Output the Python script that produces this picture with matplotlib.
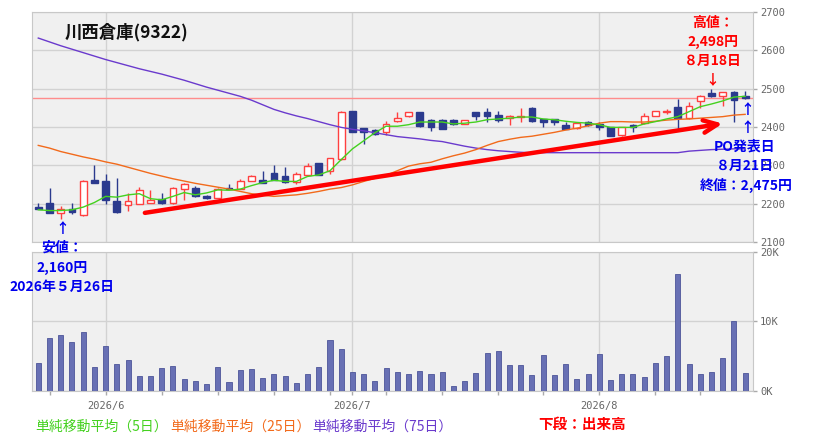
import matplotlib
matplotlib.use('Agg')
import matplotlib.pyplot as plt
import pandas as pd

plt.rcParams['font.family'] = ['Noto Sans CJK JP', 'DejaVu Sans']

# 営業日 2026/5/22 - 8/21 (海の日・山の日は休場)
holidays = ['2026-07-20', '2026-08-11']
dates = [d for d in pd.bdate_range('2026-05-22', '2026-08-21')
         if d.strftime('%Y-%m-%d') not in holidays]

# 四本値 (チャートから読み取り)
opens = [2191, 2202, 2176, 2186, 2170, 2262, 2260, 2208, 2197, 2199,
         2203, 2212, 2202, 2238, 2241, 2221, 2216, 2241, 2238, 2260,
         2262, 2280, 2273, 2257, 2275, 2306, 2286, 2317, 2442, 2397,
         2393, 2386, 2415, 2428, 2439, 2419, 2419, 2417, 2408, 2439,
         2439, 2431, 2423, 2427, 2450, 2421, 2421, 2406, 2397, 2412,
         2408, 2399, 2378, 2406, 2411, 2430, 2440, 2451, 2423, 2469,
         2489, 2480, 2491, 2481]
highs = [2203, 2241, 2193, 2203, 2262, 2302, 2277, 2267, 2229, 2243,
         2236, 2228, 2243, 2253, 2245, 2222, 2240, 2251, 2264, 2275,
         2284, 2302, 2295, 2282, 2306, 2307, 2320, 2442, 2443, 2398,
         2396, 2415, 2438, 2440, 2440, 2420, 2420, 2421, 2418, 2440,
         2450, 2442, 2432, 2450, 2451, 2422, 2422, 2412, 2411, 2416,
         2413, 2400, 2400, 2407, 2436, 2442, 2447, 2473, 2464, 2483,
         2498, 2492, 2493, 2495]
lows = [2186, 2175, 2160, 2174, 2168, 2255, 2200, 2176, 2182, 2198,
        2202, 2199, 2200, 2210, 2217, 2213, 2215, 2238, 2237, 2258,
        2254, 2261, 2255, 2251, 2274, 2274, 2278, 2315, 2387, 2356,
        2380, 2380, 2414, 2427, 2400, 2390, 2394, 2404, 2407, 2417,
        2413, 2412, 2404, 2412, 2414, 2401, 2404, 2395, 2396, 2403,
        2393, 2376, 2377, 2387, 2409, 2429, 2433, 2393, 2421, 2450,
        2479, 2455, 2412, 2473]
closes = [2186, 2176, 2186, 2177, 2260, 2255, 2210, 2177, 2208, 2236,
          2210, 2201, 2241, 2251, 2219, 2215, 2238, 2238, 2260, 2271,
          2255, 2262, 2257, 2277, 2297, 2275, 2319, 2439, 2388, 2386,
          2382, 2408, 2423, 2439, 2402, 2400, 2395, 2408, 2417, 2428,
          2428, 2419, 2428, 2429, 2415, 2412, 2413, 2396, 2410, 2406,
          2399, 2377, 2399, 2401, 2428, 2441, 2442, 2423, 2454, 2482,
          2480, 2491, 2471, 2475]

# 出来高 (株)
volumes = [4060, 7650, 8080, 7030, 8510, 3490, 6500, 3920, 4490, 2200,
           2200, 3340, 3630, 1770, 1480, 1050, 3490, 1340, 3060, 3200,
           1910, 2490, 2200, 1190, 2490, 3490, 7360, 6070, 2770, 2490,
           1480, 3340, 2770, 2490, 2910, 2490, 2770, 760, 1480, 2630,
           5500, 5780, 3780, 3780, 2340, 5210, 2340, 3920, 1770, 2490,
           5350, 1620, 2490, 2490, 2050, 4060, 5070, 16830, 3920, 2490,
           2770, 4780, 10090, 2630]

# 移動平均線 (読み取り値)
ma5 = [2184, 2182, 2182, 2184, 2191, 2203, 2219, 2217, 2223, 2226,
       2213, 2210, 2219, 2229, 2223, 2228, 2236, 2235, 2238, 2247,
       2255, 2261, 2258, 2258, 2271, 2275, 2286, 2315, 2343, 2364,
       2385, 2402, 2402, 2406, 2413, 2413, 2413, 2408, 2410, 2413,
       2419, 2421, 2423, 2426, 2426, 2421, 2419, 2415, 2412, 2410,
       2406, 2399, 2399, 2399, 2408, 2414, 2421, 2427, 2440, 2453,
       2460, 2468, 2478, 2480]
ma25 = [2352, 2345, 2336, 2329, 2322, 2316, 2309, 2303, 2295, 2287,
        2279, 2272, 2265, 2259, 2253, 2248, 2243, 2238, 2232, 2226,
        2222, 2219, 2221, 2223, 2227, 2232, 2238, 2242, 2249, 2258,
        2266, 2274, 2286, 2298, 2304, 2308, 2317, 2325, 2332, 2341,
        2352, 2362, 2368, 2373, 2376, 2381, 2386, 2392, 2397, 2403,
        2410, 2414, 2414, 2413, 2413, 2415, 2418, 2420, 2421, 2423,
        2425, 2427, 2431, 2433]
ma75 = [2632, 2622, 2612, 2603, 2594, 2585, 2576, 2568, 2560, 2552,
        2545, 2538, 2530, 2522, 2513, 2504, 2496, 2488, 2480, 2470,
        2458, 2446, 2437, 2429, 2422, 2414, 2406, 2399, 2394, 2390,
        2385, 2380, 2375, 2372, 2369, 2365, 2362, 2356, 2350, 2345,
        2341, 2338, 2336, 2334, 2333, 2333, 2333, 2333, 2333, 2333,
        2333, 2333, 2333, 2333, 2333, 2333, 2333, 2333, 2337, 2339,
        2341, 2342, 2343, 2343]

po_close = 2475

c_up = '#ff4040'
c_down = '#2b3a8e'
c_ma5 = '#44d11f'
c_ma25 = '#f26a1b'
c_ma75 = '#6a3acd'
c_vol = '#6870b4'
c_grid = '#d2d2d2'
c_tick = '#666666'
bg = '#f0f0f0'
mono = 'DejaVu Sans Mono'

W, H = 826, 443
fig = plt.figure(figsize=(W / 100, H / 100), dpi=100)


def fx(x):
    return x / W


def fy(y):
    return 1 - y / H


ax = fig.add_axes([fx(32), fy(242), fx(753) - fx(32), fy(12) - fy(242)])
axv = fig.add_axes([fx(32), fy(391), fx(753) - fx(32), fy(251.7) - fy(391)])

x = list(range(len(dates)))
month_idx = [i for i in x if i > 0 and dates[i].month != dates[i - 1].month]
week_idx = [i for i in x if i > 0 and dates[i].weekday() < dates[i - 1].weekday()]
month_lbl = [f'{dates[i].year}/{dates[i].month}' for i in month_idx]

# ローソク足
for i in x:
    o, h, l, c = opens[i], highs[i], lows[i], closes[i]
    up = c >= o
    col = c_up if up else c_down
    ax.vlines(i, l, h, color=col, lw=1, zorder=3)
    ax.bar(i, max(abs(c - o), 1.5), bottom=min(o, c), width=0.6,
           color='white' if up else c_down, edgecolor=col, lw=1, zorder=4)

ax.plot(x, ma75, color=c_ma75, lw=1, zorder=5)
ax.plot(x, ma25, color=c_ma25, lw=1, zorder=5)
ax.plot(x, ma5, color=c_ma5, lw=1, zorder=5)
ax.axhline(po_close, color='#ff8c8c', lw=1, zorder=2)

# 上昇トレンドの矢印
ax.annotate('', xy=(61.0, 2409), xytext=(9.5, 2176),
            arrowprops=dict(arrowstyle='->,head_length=1.0,head_width=0.45',
                            color='red', lw=3.2, mutation_scale=10,
                            shrinkA=0, shrinkB=0), zorder=6)

ax.set_xlim(-0.56, 63.7)
ax.set_ylim(2100, 2700)
ax.set_facecolor(bg)
ax.yaxis.tick_right()
ax.set_yticks(range(2100, 2701, 100))
ax.set_yticklabels([str(v) for v in range(2100, 2701, 100)],
                   fontfamily=mono, fontsize=7.5, color=c_tick)
ax.set_xticks(month_idx)
ax.set_xticklabels([])
ax.tick_params(axis='x', length=0)
ax.tick_params(axis='y', direction='out', length=3, width=1, color='#aaaaaa', pad=2)
ax.grid(True, color=c_grid, lw=1, zorder=0)
ax.set_axisbelow(True)
for s in ax.spines.values():
    s.set_color('#c8c8c8')

# 出来高
axv.bar(x, volumes, width=0.45, color=c_vol, edgecolor='#4d5599', lw=0.6, zorder=3)
axv.set_xlim(-0.56, 63.7)
axv.set_ylim(0, 20000)
axv.set_facecolor(bg)
axv.yaxis.tick_right()
axv.set_yticks([0, 10000, 20000])
axv.set_yticklabels(['0K', '10K', '20K'], fontfamily=mono, fontsize=7.5, color=c_tick)
axv.set_xticks(month_idx)
axv.set_xticklabels(month_lbl, fontfamily=mono, fontsize=7.5, color=c_tick)
axv.set_xticks(week_idx, minor=True)
axv.tick_params(axis='both', which='both', direction='out', length=3, width=1,
                color='#aaaaaa', pad=2)
axv.tick_params(axis='x', which='major', pad=4)
axv.grid(True, which='major', color=c_grid, lw=1, zorder=0)
axv.set_axisbelow(True)
for s in axv.spines.values():
    s.set_color('#c8c8c8')

# 文字
fig.text(fx(65), fy(32), '川西倉庫(9322)', fontsize=12.5, fontweight='bold',
         color='#111111', ha='left', va='center')

red_txt = dict(color='red', fontweight='bold', fontsize=10, ha='center', va='center')
fig.text(fx(713), fy(23), '高値：', **red_txt)
fig.text(fx(713), fy(42), '2,498円', **red_txt)
fig.text(fx(713), fy(61), '８月18日', **red_txt)
fig.text(fx(712), fy(80), '↓', **red_txt)

blue_txt = dict(color='#0000ee', fontweight='bold', fontsize=10, ha='center', va='center')
fig.text(fx(747), fy(110), '↑', **blue_txt)
fig.text(fx(747), fy(128), '↑', **blue_txt)
fig.text(fx(745), fy(147), 'PO発表日', **blue_txt)
fig.text(fx(745), fy(166), '８月21日', **blue_txt)
fig.text(fx(746), fy(185), '終値：2,475円', **blue_txt)

fig.text(fx(62), fy(229), '↑', **blue_txt)
fig.text(fx(62), fy(248), '安値：', **blue_txt)
fig.text(fx(62), fy(268), '2,160円', **blue_txt)
fig.text(fx(62), fy(287), '2026年５月26日', **blue_txt)

leg_txt = dict(fontsize=10, ha='left', va='center')
fig.text(fx(35), fy(427), '単純移動平均（5日）', color=c_ma5, **leg_txt)
fig.text(fx(170), fy(427), '単純移動平均（25日）', color=c_ma25, **leg_txt)
fig.text(fx(312), fy(427), '単純移動平均（75日）', color=c_ma75, **leg_txt)
fig.text(fx(582), fy(424), '下段：出来高', color='red', fontweight='bold',
         fontsize=10.5, ha='center', va='center')

fig.savefig('out.png', dpi=100)
